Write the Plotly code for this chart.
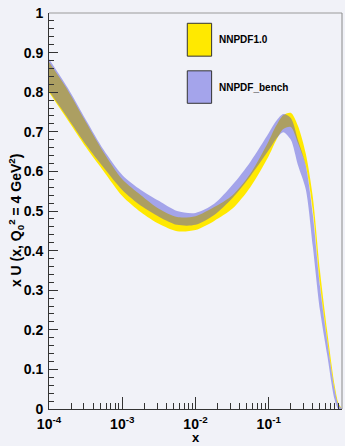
import plotly.graph_objects as go

# x grid (log-spaced sample points) shared by both bands
x_vals = [1e-4, 1.8e-4, 3.2e-4, 5.6e-4, 1e-3, 1.8e-3, 3.2e-3, 5.6e-3,
          1e-2, 0.018, 0.032, 0.056, 0.1, 0.126, 0.158, 0.2, 0.25,
          0.32, 0.4, 0.5, 0.63, 0.79, 0.89, 1.0]

# NNPDF1.0 uncertainty band
nnpdf10_upper = [0.876, 0.805, 0.724, 0.647, 0.580, 0.540, 0.505, 0.485,
                 0.487, 0.510, 0.540, 0.594, 0.677, 0.715, 0.742, 0.748,
                 0.715, 0.645, 0.535, 0.350, 0.195, 0.062, 0.016, 0.0]
nnpdf10_lower = [0.800, 0.730, 0.661, 0.600, 0.538, 0.497, 0.467, 0.449,
                 0.452, 0.475, 0.506, 0.560, 0.639, 0.678, 0.707, 0.712,
                 0.672, 0.615, 0.500, 0.315, 0.172, 0.050, 0.010, 0.0]

# NNPDF_bench uncertainty band
bench_upper = [0.884, 0.811, 0.730, 0.654, 0.591, 0.553, 0.525, 0.500,
               0.495, 0.518, 0.566, 0.624, 0.697, 0.727, 0.745, 0.735,
               0.680, 0.615, 0.490, 0.310, 0.170, 0.050, 0.012, 0.0]
bench_lower = [0.803, 0.735, 0.667, 0.609, 0.553, 0.513, 0.485, 0.465,
               0.465, 0.490, 0.533, 0.588, 0.654, 0.682, 0.699, 0.680,
               0.616, 0.555, 0.410, 0.250, 0.135, 0.025, 0.0, 0.0]

x_major = [1e-4, 1e-3, 1e-2, 1e-1, 1]
x_major_text = ["10<sup>-4</sup>", "10<sup>-3</sup>", "10<sup>-2</sup>",
                "10<sup>-1</sup>", "1"]
x_minor = [m * 10.0 ** e for e in (-4, -3, -2, -1) for m in range(2, 10)]

legend_names = ["NNPDF1.0", "NNPDF_bench"]

YELLOW = "#ffe900"
BLUE_FILL = "rgba(70,68,218,0.45)"
BLUE_SWATCH = "#a4a4eb"
BG = "#f1f2f8"
FONT = "Liberation Sans"

spline = dict(width=0, shape="spline", smoothing=0.8)

fig = go.Figure()
fig.add_trace(go.Scatter(x=x_vals, y=nnpdf10_lower, mode="lines", line=spline,
                         showlegend=False, hoverinfo="skip"))
fig.add_trace(go.Scatter(x=x_vals, y=nnpdf10_upper, mode="lines", line=spline,
                         fill="tonexty", fillcolor=YELLOW,
                         name=legend_names[0], showlegend=False))
fig.add_trace(go.Scatter(x=x_vals, y=bench_lower, mode="lines", line=spline,
                         showlegend=False, hoverinfo="skip"))
fig.add_trace(go.Scatter(x=x_vals, y=bench_upper, mode="lines", line=spline,
                         fill="tonexty", fillcolor=BLUE_FILL,
                         name=legend_names[1], showlegend=False))

tick_font = dict(family=FONT, size=14, color="black", weight="bold")

fig.update_layout(
    width=345, height=446,
    margin=dict(l=49, r=3, t=13, b=37),
    paper_bgcolor=BG, plot_bgcolor=BG,
    showlegend=False,
    xaxis=dict(
        type="log", range=[-4, 0],
        tickmode="array", tickvals=x_major, ticktext=x_major_text,
        ticks="inside", ticklen=12, tickcolor="#333", tickwidth=1,
        showline=True, linecolor="#333", linewidth=1,
        showgrid=False, zeroline=False,
        tickfont=tick_font, ticklabelstandoff=2,
        minor=dict(tickmode="array", tickvals=x_minor, ticks="inside",
                   ticklen=6, tickcolor="#333", tickwidth=1, showgrid=False),
    ),
    yaxis=dict(
        range=[0, 1], dtick=0.1, tick0=0,
        ticks="inside", ticklen=9, tickcolor="#333", tickwidth=1,
        showline=True, linecolor="#333", linewidth=1,
        showgrid=False, zeroline=False,
        tickfont=tick_font, ticklabelstandoff=2,
        minor=dict(dtick=0.02, ticks="inside", ticklen=5,
                   tickcolor="#333", showgrid=False),
    ),
)

# frame: top and right edges
fig.add_shape(type="line", xref="paper", yref="paper", x0=0, x1=1, y0=1, y1=1,
              line=dict(color="#9a9a9a", width=1))
fig.add_shape(type="line", xref="paper", yref="paper", x0=1, x1=1, y0=0, y1=1,
              line=dict(color="#8a8a8a", width=1))

# legend swatches and labels
swatches = [(YELLOW, 0.891, 0.974), (BLUE_SWATCH, 0.772, 0.854)]
for (color, y0, y1), name in zip(swatches, legend_names):
    fig.add_shape(type="rect", xref="paper", yref="paper",
                  x0=0.472, x1=0.555, y0=y0, y1=y1,
                  fillcolor=color, line=dict(color="#333", width=1))
    fig.add_annotation(xref="paper", yref="paper", x=0.572, y=(y0 + y1) / 2,
                       text=name, showarrow=False, xanchor="left",
                       yanchor="middle",
                       font=dict(family=FONT, size=10, color="black",
                                 weight="bold"))

# axis titles
fig.add_annotation(xref="paper", yref="paper", x=-0.112, y=0.475,
                   text="x U (x, Q<sub>0</sub><sup>2</sup> = 4 GeV<sup>2</sup>)",
                   textangle=-90, showarrow=False,
                   xanchor="center", yanchor="middle",
                   font=dict(family=FONT, size=14, color="black",
                             weight="bold"))
fig.add_annotation(xref="paper", yref="paper", x=0.5, y=-0.0934,
                   text="x", showarrow=False, borderpad=0,
                   xanchor="center", yanchor="bottom",
                   font=dict(family=FONT, size=13, color="black",
                             weight="bold"))

fig.write_html("out.html")
